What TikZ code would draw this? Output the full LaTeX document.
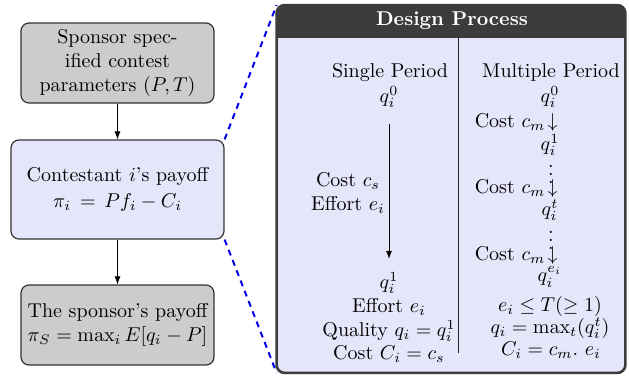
\documentclass[tikz,border=0pt]{standalone}
\usepackage{amsmath,amssymb}
\usetikzlibrary{arrows.meta,calc}
\definecolor{lav}{RGB}{230,230,250}
\definecolor{grayfill}{RGB}{204,204,204}
\definecolor{headc}{RGB}{60,60,60}
\definecolor{dashblue}{RGB}{0,0,230}
\begin{document}
\begin{tikzpicture}[x=0.5pt,y=-0.5pt,
  graybox/.style={draw=black!80,line width=0.6pt,fill=grayfill,rounded corners=4pt,align=center,inner sep=0pt,minimum width=96.5pt,minimum height=40pt},
  lavbox/.style={draw=black!80,line width=0.6pt,fill=lav,rounded corners=4pt,align=center,inner sep=0pt,minimum width=106.5pt,minimum height=49.5pt},
  txt/.style={inner sep=0pt,align=center},
  flow/.style={-{Latex[length=4pt,width=3pt]},line width=0.4pt},
  zoomline/.style={dashblue,line width=1pt,dash pattern=on 3pt off 2.5pt}]
\useasboundingbox (0,0) rectangle (629,376);
% left column
\node[graybox] (b1) at (117.5,63) {Sponsor spec-\\ified contest\\parameters $(P,T)$};
\node[lavbox] (b2) at (117.5,189.5) {Contestant $i$'s payoff\\[1pt] $\pi_i\,=\,Pf_i - C_i$};
\node[graybox] (b3) at (117.5,325) {The sponsor's payoff\\ $\pi_S = \max_i E[q_i - P]$};
\draw[flow] (b1) -- (b2);
\draw[flow] (b2) -- (b3);
% design process box
\node[draw=none,fill=lav,rounded corners=4pt,minimum width=174pt,minimum height=183.5pt,inner sep=0pt] (dp) at (451,189) {};
\begin{scope}
  \clip[rounded corners=4pt] (dp.south west) rectangle (dp.north east);
  \fill[headc] (dp.north west) rectangle ($(dp.north east)+(0,33)$);
\end{scope}
\draw[headc,line width=1.3pt,rounded corners=4pt] (dp.south west) rectangle (dp.north east);
\node[txt,text=white,font=\bfseries] (title) at (452,21) {Design Process};
\coordinate (divtop) at (459,38);
\coordinate (divbot) at (459,353);
\draw[line width=0.5pt,black!85] (divtop) -- (divbot);
% zoom lines
\draw[zoomline] (b2.north east) -- (dp.north west);
\draw[zoomline] (b2.south east) -- (dp.south west);
% single period
\node[txt] (sp) at (390,73) {Single Period};
\node[txt] (sq0) at (389,97) {$q_i^0$};
\node[txt] (sq1) at (389,283) {$q_i^1$};
\draw[flow] ([yshift=-8pt]sq0.south) -- ([yshift=6.5pt]sq1.north);
\node[txt] (slab) at (348,193) {Cost $c_s$\\ Effort $e_i$};
\node[txt] (s1) at (389,307) {Effort $e_i$};
\node[txt] (s2) at (389,331) {Quality $q_i = q_i^1$};
\node[txt] (s3) at (389,354) {Cost $C_i = c_s$};
% multiple period
\node[txt] (mp) at (551,72) {Multiple Period};
\node[txt] (mq0) at (550,97) {$q_i^0$};
\node[txt,anchor=east] (mc1) at (558,122) {Cost $c_m\!\downarrow$};
\node[txt] (mq1) at (550,145) {$q_i^1$};
\node[txt] (md1) at (551,168) {$\vdots$};
\node[txt,anchor=east] (mc2) at (558,188) {Cost $c_m\!\downarrow$};
\node[txt] (mqt) at (550,210) {$q_i^t$};
\node[txt] (md2) at (551,234) {$\vdots$};
\node[txt,anchor=east] (mc3) at (558,255) {Cost $c_m\!\downarrow$};
\node[txt] (mqe) at (550,277) {$q_i^{e_i}$};
\node[txt] (m1) at (550,306) {$e_i \leq T(\geq 1)$};
\node[txt] (m2) at (550,328) {$q_i = \max_t(q_i^t)$};
\node[txt] (m3) at (551,350) {$C_i = c_m.\ e_i$};
\end{tikzpicture}
\end{document}
